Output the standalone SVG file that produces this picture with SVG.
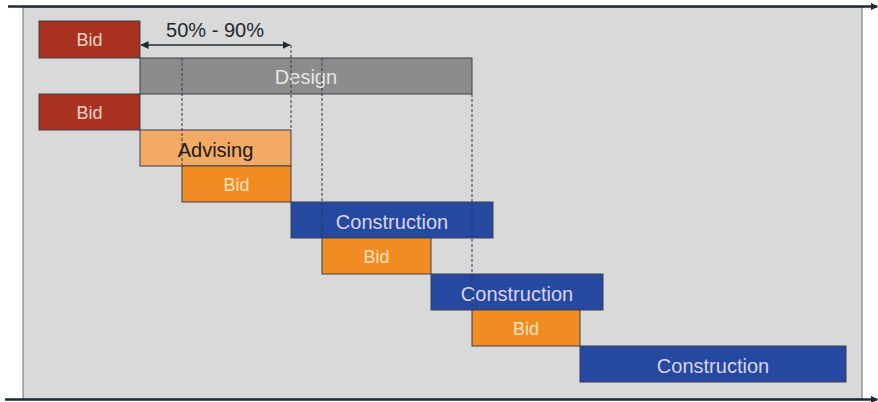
<svg xmlns="http://www.w3.org/2000/svg" width="878" height="402" viewBox="0 0 878 402">
  <style>
    .box { stroke: #3a4048; stroke-width: 1; }
    .red { fill: #a8321f; }
    .grey { fill: #8c8c8c; }
    .light { fill: #f2aa64; }
    .orange { fill: #f08c22; }
    .blue { fill: #2548a0; }
    text { font-family: "Liberation Sans", Arial, sans-serif; font-size: 20px; text-anchor: middle; }
    .tBid { fill: #f6d2c8; font-size: 18px; }
    .tBidO { fill: #fbe2c4; font-size: 18px; }
    .tDesign { fill: #e6e6e6; }
    .tAdv { fill: #1a1a1a; }
    .tCon { fill: #dcd4f4; }
    .guide { stroke: #1f3c50; stroke-width: 1; stroke-dasharray: 3 2; fill: none; }
    .axis { stroke: #1e2a30; stroke-width: 2.5; fill: none; }
  </style>
  <defs>
    <marker id="axisHead" viewBox="0 0 6 6" refX="5" refY="3" markerWidth="3" markerHeight="3" orient="auto">
      <path d="M0,0 L6,3 L0,6 z" fill="#1e2a30"/>
    </marker>
    <marker id="dimHead" viewBox="0 0 8 8" refX="7.5" refY="4" markerWidth="8" markerHeight="8" markerUnits="userSpaceOnUse" orient="auto-start-reverse">
      <path d="M0,0 L8,4 L0,8 z" fill="#1e2a30"/>
    </marker>
  </defs>

  <!-- plot area -->
  <rect x="23" y="7" width="839" height="392" fill="#d9d9d9" stroke="#5a7080" stroke-width="1"/>

  <g id="bid-1"><rect class="box red" x="39" y="21" width="101" height="37"/><text class="tBid" x="89.5" y="46">Bid</text></g>
  <g id="design"><rect class="box grey" x="140" y="58" width="332" height="36"/><text class="tDesign" x="306" y="84">Design</text></g>
  <g id="bid-2"><rect class="box red" x="39" y="94" width="101" height="36"/><text class="tBid" x="89.5" y="119">Bid</text></g>
  <g id="advising"><rect class="box light" x="140" y="130" width="151" height="36"/><text class="tAdv" x="215.5" y="157">Advising</text></g>
  <g id="bid-3"><rect class="box orange" x="182" y="166" width="109" height="36"/><text class="tBidO" x="236.5" y="191">Bid</text></g>
  <g id="construction-1"><rect class="box blue" x="291" y="202" width="202" height="36"/><text class="tCon" x="392" y="229">Construction</text></g>
  <g id="bid-4"><rect class="box orange" x="322" y="238" width="109" height="36"/><text class="tBidO" x="376.5" y="263">Bid</text></g>
  <g id="construction-2"><rect class="box blue" x="431" y="274" width="172" height="36"/><text class="tCon" x="517" y="301">Construction</text></g>
  <g id="bid-5"><rect class="box orange" x="472" y="310" width="108" height="36"/><text class="tBidO" x="526" y="335">Bid</text></g>
  <g id="construction-3"><rect class="box blue" x="580" y="346" width="266" height="36"/><text class="tCon" x="713" y="373">Construction</text></g>

  <g id="connectors">
    <line class="guide" x1="182" y1="58" x2="182" y2="166"/>
    <line class="guide" x1="291" y1="45" x2="291" y2="130" stroke-dasharray="8 3 2 3"/>
    <line class="guide" x1="322" y1="58" x2="322" y2="238"/>
    <line class="guide" x1="472" y1="94" x2="472" y2="310"/>
    <line x1="141" y1="45" x2="290" y2="45" stroke="#1e2a30" stroke-width="1.3" marker-start="url(#dimHead)" marker-end="url(#dimHead)"/>
    <text x="215" y="37" fill="#1e2a30">50% - 90%</text>
    <line class="axis" x1="8" y1="6.5" x2="877" y2="6.5" marker-end="url(#axisHead)"/>
    <line class="axis" x1="5" y1="399.5" x2="877" y2="399.5" marker-end="url(#axisHead)"/>
  </g>
</svg>
